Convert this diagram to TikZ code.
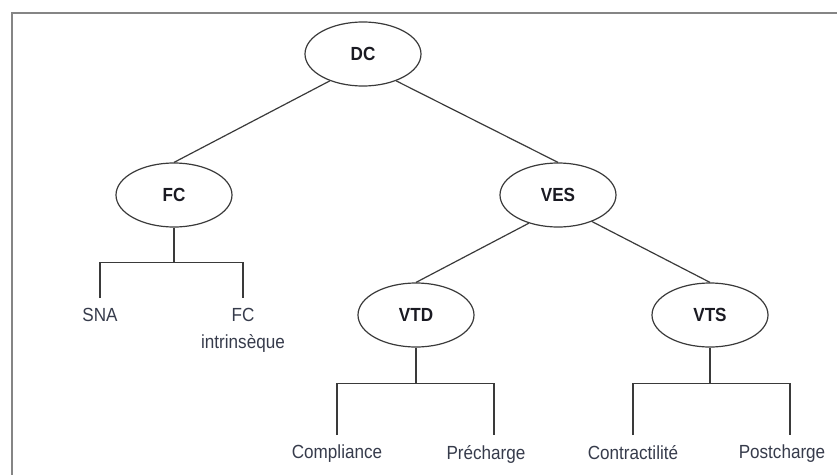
\documentclass[tikz,border=0pt]{standalone}
\usepackage{fontspec}
\setmainfont{Liberation Sans}[FakeStretch=0.9]
\usetikzlibrary{shapes.geometric, calc}
\definecolor{inkline}{HTML}{3A3A3A}
\definecolor{inkframe}{HTML}{858585}
\definecolor{inktext}{HTML}{363B4B}
\definecolor{inkbold}{HTML}{1A1A22}

\begin{document}
\begin{tikzpicture}[x=1pt, y=-1pt, font=\fontsize{19}{27}\selectfont,
  oval/.style={ellipse, draw=inkline, line width=1.2pt, minimum width=116pt,
               minimum height=64pt, inner sep=0pt, text=inkbold, font=\fontsize{19}{22}\selectfont\bfseries},
  leaf/.style={anchor=north, align=center, inner ysep=10pt, text=inktext},
  link/.style={draw=inkline, line width=1.2pt}]
  \useasboundingbox (0,0) rectangle (837,474);
  \clip (0,0) rectangle (837,474);
  % frame, open at right and bottom
  \draw[inkframe, line width=2pt] (12,490) -- (12,13) -- (850,13);

  \node[oval] (dc)  at (363,54)  {DC};
  \node[oval] (fc)  at (174,195) {FC};
  \node[oval] (ves) at (558,195) {VES};
  \node[oval] (vtd) at (416,315) {VTD};
  \node[oval] (vts) at (710,315) {VTS};

  \draw[link] (dc.219) -- (fc.north);
  \draw[link] (dc.321) -- (ves.north);
  \draw[link] (ves.224) -- (vtd.north);
  \draw[link] (ves.322) -- (vts.north);

  % leaves
  \node[leaf] (sna)  at (100,298) {SNA};
  \node[leaf] (fcin) at (243,298) {FC\\intrinsèque};
  \node[leaf] (compl) at (337,435) {Compliance};
  \node[leaf, xshift=-8pt] (prech) at (494,435) {Précharge};
  \node[leaf] (contr) at (633,435) {Contractilité};
  \node[leaf, xshift=-8pt] (postch) at (790,435) {Postcharge};

  \draw[link] (fc.south) -- ++(0,35) coordinate (fcj);
  \draw[link] (sna.north) |- (fcj) -| (fcin.north);
  \draw[link] (vtd.south) -- ++(0,36) coordinate (vtdj);
  \draw[link] (compl.north) |- (vtdj) -| ($(prech.north)+(8,0)$);
  \draw[link] (vts.south) -- ++(0,36) coordinate (vtsj);
  \draw[link] (contr.north) |- (vtsj) -| ($(postch.north)+(8,0)$);
\end{tikzpicture}
\end{document}
